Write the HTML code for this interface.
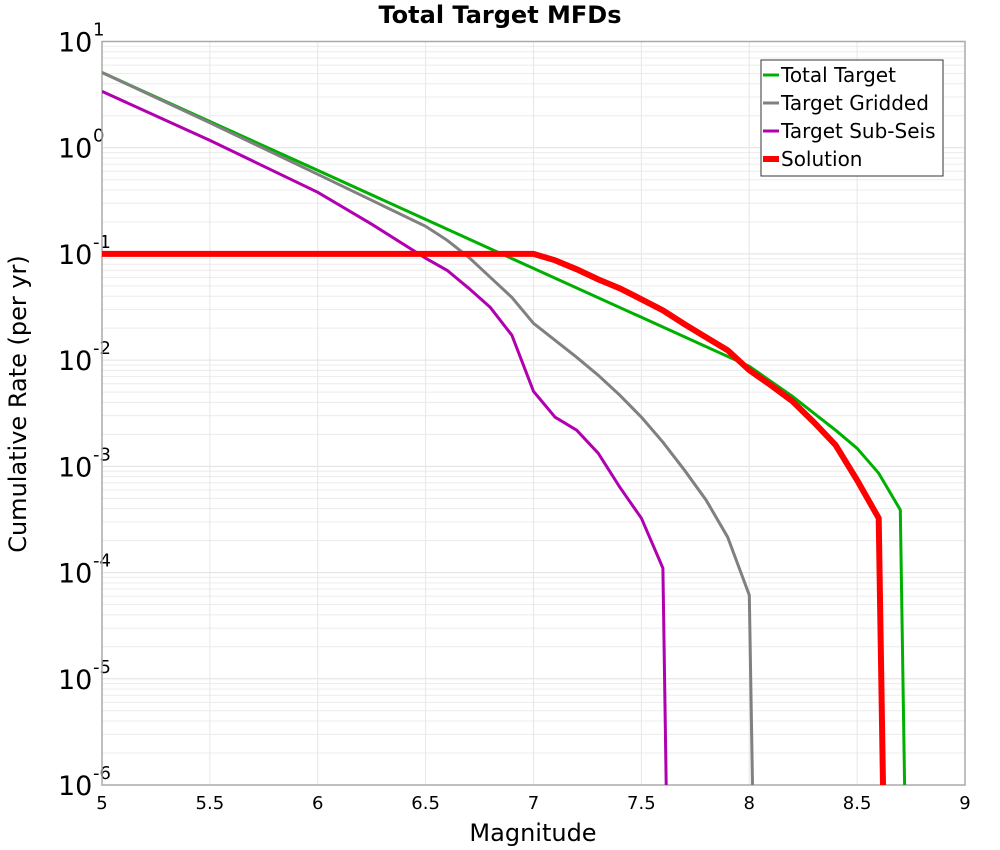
<!DOCTYPE html>
<html><head><meta charset="utf-8"><style>
body{margin:0;background:#fff;}
svg{display:block;font-family:"DejaVu Sans","Liberation Sans",sans-serif;}
</style></head><body>
<svg id="chart" width="1000" height="850">
<text x="500" y="23" text-anchor="middle" font-size="24" font-weight="bold">Total Target MFDs</text>
<g id="grid"></g>
<g id="axes"></g>
<g id="series"></g>
<text x="533" y="841" text-anchor="middle" font-size="24">Magnitude</text>
<text transform="translate(26,404) rotate(-90)" text-anchor="middle" font-size="24">Cumulative Rate (per yr)</text>
<g id="legend"></g>
</svg>
<script>
const xTicks=[5,5.5,6,6.5,7,7.5,8,8.5,9];
const yDecades=[1,0,-1,-2,-3,-4,-5,-6];
const seriesNames=["Total Target","Target Gridded","Target Sub-Seis","Solution"];
const seriesColors=["#00b000","#808080","#b000b0","#ff0000"];
const seriesWidths=[3,3,3,6];
const totalMag=[5,5.5,6,6.5,7,7.5,8,8.1,8.2,8.3,8.4,8.5,8.6,8.7,8.72];
const totalLog=[0.708,0.247,-0.214,-0.675,-1.136,-1.597,-2.058,-2.199,-2.34,-2.5,-2.66,-2.83,-3.064,-3.41,-6];
const gridMag=[5,5.5,6,6.5,6.6,6.7,6.8,6.9,7,7.1,7.2,7.3,7.4,7.5,7.6,7.7,7.8,7.9,8,8.015];
const gridLog=[0.708,0.235,-0.25,-0.74,-0.872,-1.032,-1.22,-1.409,-1.653,-1.813,-1.973,-2.142,-2.33,-2.537,-2.773,-3.036,-3.318,-3.667,-4.212,-6];
const subMag=[5,5.5,6,6.25,6.5,6.6,6.7,6.8,6.9,7,7.1,7.2,7.3,7.4,7.5,7.6,7.615];
const subLog=[0.53,0.069,-0.42,-0.72,-1.04,-1.155,-1.324,-1.503,-1.766,-2.293,-2.537,-2.66,-2.876,-3.196,-3.488,-3.958,-6];
const solMag=[5,7,7.1,7.2,7.3,7.4,7.5,7.6,7.7,7.8,7.9,8,8.1,8.2,8.3,8.4,8.5,8.6,8.62];
const solLog=[-1,-1,-1.06,-1.145,-1.24,-1.324,-1.427,-1.531,-1.662,-1.785,-1.907,-2.095,-2.236,-2.387,-2.585,-2.8,-3.13,-3.488,-6];

const NS="http://www.w3.org/2000/svg";
const L=102,R=965,T=41.5,B=785;
const xMin=5,xMax=9,yTop=1,yBot=-6;
function xs(m){return L+(m-xMin)/(xMax-xMin)*(R-L);}
function ys(l){return T+(yTop-l)/(yTop-yBot)*(B-T);}
function mk(tag,attrs,parent){const e=document.createElementNS(NS,tag);for(const k in attrs)e.setAttribute(k,attrs[k]);parent.appendChild(e);return e;}
const grid=document.getElementById('grid'),axes=document.getElementById('axes'),ser=document.getElementById('series'),leg=document.getElementById('legend');

yDecades.forEach(d=>{
  const y=ys(d);
  const g=mk('line',{x1:L,x2:R,y1:y,y2:y,stroke:'#e0e0e0','stroke-width':1},grid);
  
  
  if(d>yBot){for(let k=2;k<=9;k++){const yy=ys(d-1+Math.log10(k));
    const m=mk('line',{x1:L,x2:R,y1:yy,y2:yy,stroke:'#ececec','stroke-width':1},grid);
    
    }}
});
xTicks.forEach(t=>{
  const x=xs(t);
  const g=mk('line',{x1:x,x2:x,y1:T,y2:B,stroke:'#e6e6e6','stroke-width':1},grid);
  
  
  const tx=mk('text',{x:x,y:809,'text-anchor':'middle','font-size':18},axes);
  tx.textContent=String(t);
  
  
});
yDecades.forEach(d=>{
  const y=ys(d);
  const tx=mk('text',{x:58,y:y+10,'font-size':27},axes);
  tx.textContent='10';
  
  
  const sp=mk('text',{x:93,y:y-6,'font-size':18},axes);
  sp.textContent=String(d);
  
  
});
const fr=mk('rect',{x:L,y:T,width:R-L,height:B-T,fill:'none',stroke:'#aaaaaa','stroke-width':1.5},axes);



const clip=mk('clipPath',{id:'pc'},document.getElementById('chart'));
mk('rect',{x:L,y:T,width:R-L,height:B-T},clip);
const mags=[totalMag,gridMag,subMag,solMag],logs=[totalLog,gridLog,subLog,solLog];
const names=['total-target-line','target-gridded-line','target-sub-seis-line','solution-line'];
mags.forEach((ms,i)=>{
  const pts=ms.map((m,j)=>xs(m).toFixed(1)+','+ys(logs[i][j]).toFixed(1)).join(' ');
  const p=mk('polyline',{points:pts,fill:'none',stroke:seriesColors[i],'stroke-width':seriesWidths[i],'stroke-linejoin':'miter','clip-path':'url(#pc)'},ser);
  
  
});
const lb=mk('rect',{x:761,y:60,width:182,height:116,fill:'#fff',stroke:'#333','stroke-width':1},leg);


seriesNames.forEach((n,i)=>{
  const y=75+i*28;
  const l=mk('line',{x1:763,x2:779,y1:y,y2:y,stroke:seriesColors[i],'stroke-width':seriesWidths[i]},leg);
  
  
  const t=mk('text',{x:781,y:y+7,'font-size':20},leg);
  t.textContent=n;
  
  
});
</script>
</body></html>
